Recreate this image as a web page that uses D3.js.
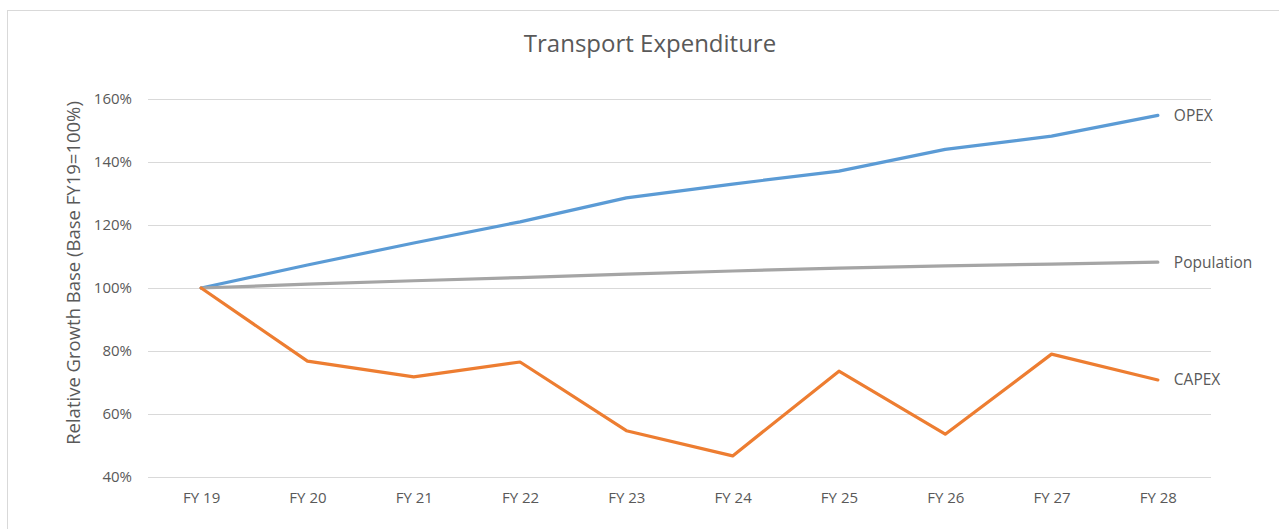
<!DOCTYPE html>
<html>
<head>
<meta charset="utf-8">
<script src="https://cdn.jsdelivr.net/npm/d3@7"></script>
<style>
  body { margin: 0; background: #fff; }
  svg { display: block; font-family: "Open Sans", sans-serif; }
</style>
</head>
<body>
<svg width="1279" height="529"></svg>
<script>
const years = ["FY 19", "FY 20", "FY 21", "FY 22", "FY 23", "FY 24", "FY 25", "FY 26", "FY 27", "FY 28"];
const opex = [100, 107.3, 114.3, 121.0, 128.6, 133.0, 137.1, 144.0, 148.2, 154.8];
const population = [100, 101.2, 102.3, 103.3, 104.4, 105.4, 106.3, 107.0, 107.6, 108.2];
const capex = [100, 76.8, 71.8, 76.5, 54.7, 46.7, 73.6, 53.6, 79.0, 70.8];
const yTicks = [40, 60, 80, 100, 120, 140, 160];

const series = [
  { name: "OPEX", values: opex, color: "#5b9bd5" },
  { name: "Population", values: population, color: "#a5a5a5" },
  { name: "CAPEX", values: capex, color: "#ed7d31" }
];

const svg = d3.select("svg");
const textColor = "#595959";

// chart frame (only top/left edges visible)
svg.append("rect")
  .attr("x", 7.5).attr("y", 10.5)
  .attr("width", 1400).attr("height", 700)
  .attr("fill", "#fff")
  .attr("stroke", "#d9d9d9");

const plot = { left: 148, right: 1211, top: 99, bottom: 477 };

const x = d3.scalePoint()
  .domain(years)
  .range([plot.left, plot.right])
  .padding(0.5);

const y = d3.scaleLinear()
  .domain([40, 160])
  .range([plot.bottom, plot.top]);

// gridlines
svg.append("g")
  .selectAll("line")
  .data(yTicks)
  .join("line")
  .attr("x1", plot.left).attr("x2", plot.right)
  .attr("y1", d => Math.round(y(d)) + 0.5)
  .attr("y2", d => Math.round(y(d)) + 0.5)
  .attr("stroke", "#d9d9d9")
  .attr("stroke-width", 1);

// y axis labels
const yAxis = d3.axisLeft(y)
  .tickValues(yTicks)
  .tickSize(0)
  .tickPadding(16)
  .tickFormat(d => d + "%");

svg.append("g")
  .attr("transform", `translate(${plot.left},0)`)
  .call(yAxis)
  .call(g => g.select(".domain").remove())
  .call(g => g.selectAll("text")
    .attr("fill", textColor)
    .attr("font-size", 15)
    .attr("font-family", "Open Sans, sans-serif"));

// x axis labels
const xAxis = d3.axisBottom(x)
  .tickSize(0)
  .tickPadding(15);

svg.append("g")
  .attr("transform", `translate(0,${plot.bottom})`)
  .call(xAxis)
  .call(g => g.select(".domain").remove())
  .call(g => g.selectAll("text")
    .attr("fill", textColor)
    .attr("font-size", 15)
    .attr("font-family", "Open Sans, sans-serif"));

// lines
const line = d3.line()
  .x((d, i) => x(years[i]))
  .y(d => y(d));

svg.append("g")
  .selectAll("path")
  .data(series)
  .join("path")
  .attr("fill", "none")
  .attr("stroke", d => d.color)
  .attr("stroke-width", 3.2)
  .attr("stroke-linejoin", "round")
  .attr("stroke-linecap", "round")
  .attr("d", d => line(d.values));

// end labels
svg.append("g")
  .selectAll("text")
  .data(series)
  .join("text")
  .attr("x", x(years[years.length - 1]) + 16)
  .attr("y", d => y(d.values[d.values.length - 1]))
  .attr("dy", "0.35em")
  .attr("fill", textColor)
  .attr("font-size", 15.5)
  .text(d => d.name);

// title
svg.append("text")
  .attr("x", 650)
  .attr("y", 52)
  .attr("text-anchor", "middle")
  .attr("fill", textColor)
  .attr("font-size", 24)
  .text("Transport Expenditure");

// y axis title
svg.append("text")
  .attr("transform", `translate(80,${(plot.top + plot.bottom) / 2 - 15}) rotate(-90)`)
  .attr("text-anchor", "middle")
  .attr("fill", textColor)
  .attr("font-size", 18.5)
  .text("Relative Growth Base (Base FY19=100%)");
</script>
</body>
</html>
